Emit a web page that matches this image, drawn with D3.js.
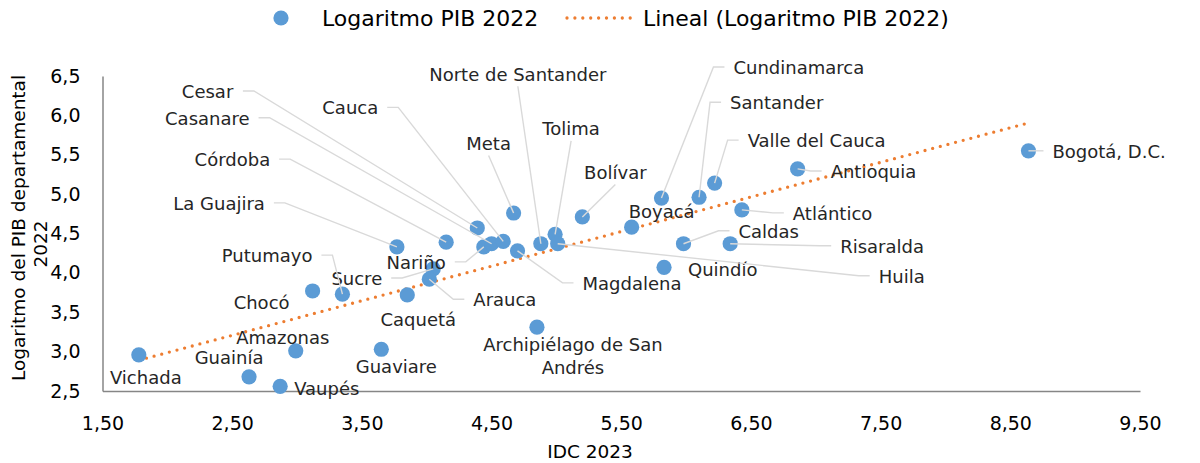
<!DOCTYPE html>
<html>
<head>
<meta charset="utf-8">
<script src="https://cdn.jsdelivr.net/npm/d3@7"></script>
<style>
    body { margin: 0; background: #fff; }
    svg { display: block; font-family: "DejaVu Sans", sans-serif; }
</style>
</head>
<body>
<div id="chart"></div>
<script>
// departments, IDC 2023 (x) and log of departmental GDP 2022 (y)
const departments = ["Vichada", "Guainía", "Vaupés", "Amazonas", "Guaviare", "Chocó", "Putumayo", "Caquetá",
    "Sucre", "Arauca", "La Guajira", "Córdoba", "Cesar", "Nariño", "Casanare", "Cauca", "Meta", "Magdalena",
    "Norte de Santander", "Tolima", "Huila", "Archipiélago de San Andrés", "Bolívar", "Boyacá", "Cundinamarca",
    "Santander", "Valle del Cauca", "Quindío", "Caldas", "Risaralda", "Atlántico", "Antioquia", "Bogotá, D.C."];
const idc2023 = [1.78, 2.63, 2.87, 2.99, 3.65, 3.12, 3.35, 3.85,
    4.05, 4.02, 3.77, 4.15, 4.39, 4.44, 4.50, 4.59, 4.67, 4.70,
    4.88, 4.99, 5.01, 4.85, 5.20, 5.58, 5.81,
    6.10, 6.22, 5.83, 5.98, 6.34, 6.43, 6.86, 8.64];
const logPib2022 = [2.96, 2.68, 2.56, 3.01, 3.03, 3.77, 3.73, 3.72,
    4.05, 3.92, 4.33, 4.39, 4.57, 4.33, 4.37, 4.40, 4.76, 4.28,
    4.37, 4.49, 4.37, 3.31, 4.71, 4.58, 4.95,
    4.96, 5.14, 4.07, 4.37, 4.37, 4.80, 5.32, 5.55];

const xTicks = [1.5, 2.5, 3.5, 4.5, 5.5, 6.5, 7.5, 8.5, 9.5];
const yTicks = [2.5, 3.0, 3.5, 4.0, 4.5, 5.0, 5.5, 6.0, 6.5];

// label placement relative to its point (px): dx, dy, anchor, leader
// leader "L": label left of point, "R": label right of point, "B": from below the label
const labelLayout = {
    "Vichada": [7, 22, "middle", null],
    "Guainía": [-20, -20, "middle", null],
    "Vaupés": [14, 2, "start", null],
    "Amazonas": [-13, -14, "middle", null],
    "Guaviare": [15, 17, "middle", null],
    "Chocó": [-51, 11, "middle", null],
    "Putumayo": [-30, -39, "end", "L"],
    "Caquetá": [11, 24, "middle", null],
    "Sucre": [-51, 9, "end", "L"],
    "Arauca": [44, 20, "start", "R"],
    "La Guajira": [-132, -44, "end", "L"],
    "Córdoba": [-176, -83, "end", "L"],
    "Cesar": [-244, -137, "end", "L"],
    "Nariño": [-38, 15, "end", "L"],
    "Casanare": [-242, -126, "end", "L"],
    "Cauca": [-125, -134, "end", "L"],
    "Meta": [-25, -70, "middle", "B"],
    "Magdalena": [65, 32, "start", "R"],
    "Norte de Santander": [-23, -170, "middle", "B"],
    "Tolima": [16, -106, "middle", "B"],
    "Huila": [321, 32, "start", "R"],
    "Archipiélago de San Andrés": [36, 17, "middle", null],
    "Bolívar": [33, -45, "middle", "B"],
    "Boyacá": [30, -16, "middle", null],
    "Cundinamarca": [72, -131, "start", "R"],
    "Santander": [31, -95, "start", "R"],
    "Valle del Cauca": [33, -43, "start", "R"],
    "Quindío": [24, 2, "start", null],
    "Caldas": [55, -13, "start", "R"],
    "Risaralda": [110, 2, "start", "R"],
    "Atlántico": [51, 3, "start", "R"],
    "Antioquia": [33, 2, "start", "R"],
    "Bogotá, D.C.": [24, 0, "start", "R"]
};
const labelLines = { "Archipiélago de San Andrés": ["Archipiélago de San", "Andrés"] };

const width = 1200, height = 463;
const plot = { left: 102.5, right: 1140, top: 76, bottom: 391 };

const locale = d3.formatLocale({ decimal: ",", thousands: ".", grouping: [3], currency: ["$", ""] });

const svg = d3.select("#chart").append("svg")
    .attr("width", width)
    .attr("height", height);

const x = d3.scaleLinear().domain([1.5, 9.5]).range([plot.left, plot.right]);
const y = d3.scaleLinear().domain([2.5, 6.5]).range([plot.bottom, plot.top]);

// axes
const xAxis = svg.append("g")
    .attr("transform", "translate(0," + plot.bottom + ")")
    .call(d3.axisBottom(x).tickValues(xTicks).tickSize(0).tickPadding(26).tickFormat(locale.format(".2f")));
const yAxis = svg.append("g")
    .attr("transform", "translate(" + plot.left + ",0)")
    .call(d3.axisLeft(y).tickValues(yTicks).tickSize(0).tickPadding(22).tickFormat(locale.format(".1f")));

[xAxis, yAxis].forEach(function (g) {
    g.select(".domain").attr("stroke", "#868686").attr("stroke-width", 1.5);
    g.selectAll("text")
        .style("font-family", "DejaVu Sans, sans-serif")
        .style("font-size", "19px")
        .attr("fill", "#000");
});

// axis titles
svg.append("text")
    .attr("x", 590)
    .attr("y", 458)
    .attr("text-anchor", "middle")
    .style("font-size", "18.5px")
    .text("IDC 2023");

const yTitle = svg.append("text")
    .attr("transform", "translate(25,228) rotate(-90)")
    .attr("text-anchor", "middle")
    .style("font-size", "18.5px");
yTitle.append("tspan").attr("x", 0).attr("y", 0).text("Logaritmo del PIB departamental");
yTitle.append("tspan").attr("x", -16).attr("y", 22).text("2022");

// trend line (least squares, drawn between min and max x like the spreadsheet)
const n = idc2023.length;
const mx = d3.mean(idc2023), my = d3.mean(logPib2022);
let sxy = 0, sxx = 0;
for (let i = 0; i < n; i++) {
    sxy += (idc2023[i] - mx) * (logPib2022[i] - my);
    sxx += (idc2023[i] - mx) * (idc2023[i] - mx);
}
const slope = sxy / sxx, intercept = my - slope * mx;
const xExt = d3.extent(idc2023);

svg.append("line")
    .attr("x1", x(xExt[0])).attr("y1", y(intercept + slope * xExt[0]))
    .attr("x2", x(xExt[1])).attr("y2", y(intercept + slope * xExt[1]))
    .attr("stroke", "#ED7D31")
    .attr("stroke-width", 3.3)
    .attr("stroke-linecap", "round")
    .attr("stroke-dasharray", "0 7.9");

const points = departments.map(function (d, i) {
    return { name: d, x: idc2023[i], y: logPib2022[i] };
});

// markers
svg.append("g").selectAll("circle")
    .data(points)
    .enter()
    .append("circle")
    .attr("cx", d => x(d.x))
    .attr("cy", d => y(d.y))
    .attr("r", 7.6)
    .attr("fill", "#5B9BD5");

// data labels
const labelG = svg.append("g");
const leaderG = svg.append("g");

points.forEach(function (d) {
    const lay = labelLayout[d.name];
    const px = x(d.x), py = y(d.y);
    const lx = px + lay[0], ly = py + lay[1];
    const lines = labelLines[d.name] || [d.name];

    const t = labelG.append("text")
        .attr("text-anchor", lay[2])
        .attr("dominant-baseline", "central")
        .style("font-size", "18px")
        .attr("fill", "#262626");
    lines.forEach(function (s, k) {
        t.append("tspan").attr("x", lx).attr("y", ly + k * 23).text(s);
    });

    if (!lay[3]) return;
    const bb = t.node().getBBox();
    let pts;
    if (lay[3] === "L") {
        const sx = bb.x + bb.width + 9;
        pts = [[sx, ly], [sx + 11, ly], [px, py]];
    } else if (lay[3] === "R") {
        const sx = bb.x - 9;
        pts = [[sx, ly], [sx - 11, ly], [px, py]];
    } else {
        pts = [[lx, bb.y + bb.height + 2], [px, py]];
    }
    leaderG.append("path")
        .attr("d", d3.line()(pts))
        .attr("fill", "none")
        .attr("stroke", "#D9D9D9")
        .attr("stroke-width", 1.4);
});

// legend
const legend = svg.append("g");
legend.append("circle").attr("cx", 281).attr("cy", 18).attr("r", 7.6).attr("fill", "#5B9BD5");
legend.append("text").attr("x", 322).attr("y", 18).attr("dominant-baseline", "central")
    .style("font-size", "22px").text("Logaritmo PIB 2022");
legend.append("line")
    .attr("x1", 567).attr("x2", 634).attr("y1", 18).attr("y2", 18)
    .attr("stroke", "#ED7D31")
    .attr("stroke-width", 3.3)
    .attr("stroke-linecap", "round")
    .attr("stroke-dasharray", "0 7.9");
legend.append("text").attr("x", 643).attr("y", 18).attr("dominant-baseline", "central")
    .style("font-size", "22px").text("Lineal (Logaritmo PIB 2022)");
</script>
</body>
</html>
